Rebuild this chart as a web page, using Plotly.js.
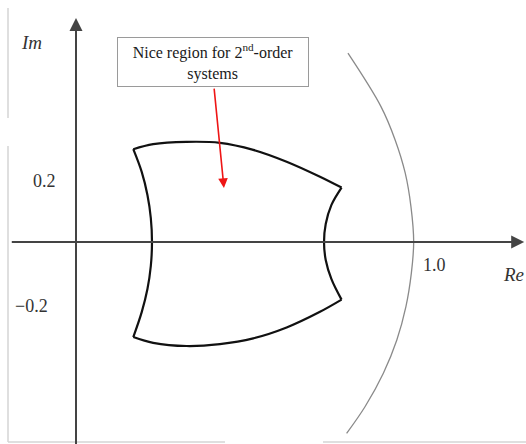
<!DOCTYPE html>
<html>
<head>
<meta charset="utf-8">
<script src="https://cdn.plot.ly/plotly-3.0.1.min.js"></script>
<style>html,body{margin:0;padding:0;background:#fff;}#chart{width:526px;height:444px;}</style>
</head>
<body>
<div id="chart"></div>
<script>
// Region boundary, split into its four edges
const topEdgeRe    = [0.170, 0.229, 0.328, 0.427, 0.526, 0.625, 0.724, 0.788];
const topEdgeIm    = [0.290, 0.306, 0.313, 0.310, 0.288, 0.251, 0.204, 0.170];
const rightEdgeRe  = [0.788, 0.758, 0.741, 0.736, 0.741, 0.758, 0.788];
const rightEdgeIm  = [0.170, 0.116, 0.056, 0.000, -0.056, -0.116, -0.180];
const bottomEdgeRe = [0.788, 0.724, 0.625, 0.526, 0.427, 0.328, 0.229, 0.170];
const bottomEdgeIm = [-0.180, -0.218, -0.267, -0.301, -0.319, -0.325, -0.315, -0.297];
const leftEdgeRe   = [0.170, 0.195, 0.212, 0.222, 0.2255, 0.222, 0.212, 0.195, 0.170];
const leftEdgeIm   = [-0.297, -0.219, -0.147, -0.075, 0.000, 0.075, 0.147, 0.219, 0.290];
// Unit-circle arc
const arcRe = [0.807, 0.905, 0.947, 0.977, 0.994, 1.002, 0.995, 0.979, 0.952, 0.912, 0.858, 0.803];
const arcIm = [0.590, 0.423, 0.319, 0.215, 0.110, 0.000, -0.098, -0.202, -0.306, -0.410, -0.514, -0.598];
// Tick labels
const tickLabels = ["0.2", "\u22120.2", "1.0"];
const tickRe = [-0.092, -0.131, 1.065];
const tickIm = [0.191, -0.200, -0.072];
const boxText = "Nice region for 2<sup>nd</sup>-order<br>systems";

const serif = '"Liberation Serif", "Times New Roman", serif';
const edge = (x, y) => ({x, y, type: "scatter", mode: "lines",
  line: {color: "#111", width: 2.2, shape: "spline", smoothing: 1},
  hoverinfo: "skip", showlegend: false});

const data = [
  {x: arcRe, y: arcIm, type: "scatter", mode: "lines",
   line: {color: "#8a8a8a", width: 1.3, shape: "spline", smoothing: 1},
   hoverinfo: "skip", showlegend: false},
  edge(topEdgeRe, topEdgeIm),
  edge(rightEdgeRe, rightEdgeIm),
  edge(bottomEdgeRe, bottomEdgeIm),
  edge(leftEdgeRe, leftEdgeIm)
];

const annotations = [
  // horizontal axis with arrow
  {x: 1.330, y: 0, ax: -0.195, ay: 0, xref: "x", yref: "y", axref: "x", ayref: "y",
   text: "", showarrow: true, arrowhead: 2, arrowsize: 1.3, arrowwidth: 2, arrowcolor: "#444"},
  // vertical axis with arrow
  {x: 0, y: 0.700, ax: 0, ay: -0.64, xref: "x", yref: "y", axref: "x", ayref: "y",
   text: "", showarrow: true, arrowhead: 2, arrowsize: 1.3, arrowwidth: 2, arrowcolor: "#444"},
  // axis names
  {x: -0.131, y: 0.625, xref: "x", yref: "y", text: "Im", showarrow: false,
   font: {family: serif, size: 19, color: "#333", style: "italic"}},
  {x: 1.262, y: -0.103, xref: "x", yref: "y", text: "Re", showarrow: false, xanchor: "left",
   font: {family: serif, size: 19, color: "#333", style: "italic"}},
  // box
  {x: 0.4065, y: 0.5625, xref: "x", yref: "y", text: boxText, showarrow: false,
   width: 190, height: 48, bordercolor: "#9a9a9a", borderwidth: 1, borderpad: 0, bgcolor: "#fff",
   font: {family: serif, size: 16, color: "#1a1a1a"}},
  // red arrow
  {x: 0.439, y: 0.169, ax: 0.4095, ay: 0.484, xref: "x", yref: "y", axref: "x", ayref: "y",
   text: "", showarrow: true, arrowhead: 2, arrowsize: 1.2, arrowwidth: 1.6, arrowcolor: "#ee1515"}
];
for (let i = 0; i < tickLabels.length; i++) {
  annotations.push({x: tickRe[i], y: tickIm[i], xref: "x", yref: "y", text: tickLabels[i],
    showarrow: false, font: {family: serif, size: 18, color: "#333"}});
}

const faint = {color: "#d4d4d4", width: 1.5};
const shapes = [
  {type: "line", xref: "paper", yref: "paper", x0: 8/526, x1: 8/526, y0: 1 - 8/444, y1: 1 - 118/444, line: faint},
  {type: "line", xref: "paper", yref: "paper", x0: 8/526, x1: 8/526, y0: 1 - 146/444, y1: 1 - 442/444, line: faint},
  {type: "line", xref: "paper", yref: "paper", x0: 8/526, x1: 225/526, y0: 1 - 442/444, y1: 1 - 442/444, line: faint},
  {type: "line", xref: "paper", yref: "paper", x0: 323/526, x1: 1, y0: 1 - 442/444, y1: 1 - 442/444, line: faint}
];

const axisOff = {showgrid: false, zeroline: false, showticklabels: false, showline: false, ticks: "", fixedrange: true};
const layout = {
  width: 526, height: 444,
  margin: {l: 0, r: 0, t: 0, b: 0, pad: 0},
  paper_bgcolor: "#fff", plot_bgcolor: "#fff",
  xaxis: Object.assign({range: [-0.2255, 1.3353]}, axisOff),
  yaxis: Object.assign({range: [-0.63125, 0.75625]}, axisOff),
  showlegend: false,
  annotations, shapes
};
Plotly.newPlot("chart", data, layout, {displayModeBar: false, staticPlot: true});
</script>
</body>
</html>
